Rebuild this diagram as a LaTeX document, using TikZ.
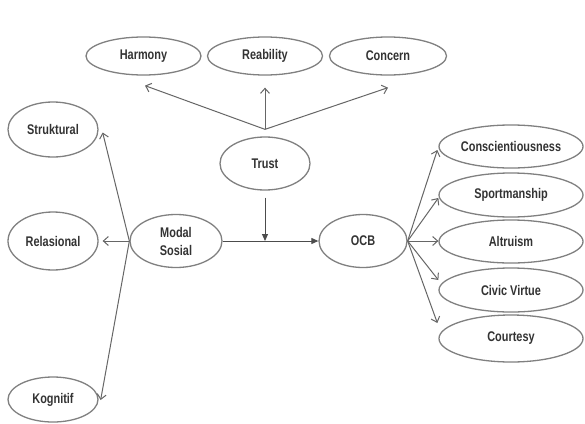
\documentclass[tikz,border=0pt]{standalone}
\usepackage{fontspec}
\setmainfont{Liberation Sans}[FakeStretch=0.78]
\usetikzlibrary{shapes.geometric,arrows.meta,calc}
\begin{document}
\begin{tikzpicture}[x=1pt,y=-1pt,
  ell/.style={ellipse, draw=black!50, line width=1.3pt, inner sep=0pt,
    font=\fontsize{14}{18}\selectfont\bfseries, text=black!80, align=center},
  openarr/.style={draw=black!60, line width=1pt, -{Straight Barb[length=5pt,width=9pt]}},
  filarr/.style={draw=black!60, line width=1pt, -{Triangle[length=7pt,width=6pt]}, color=black!70}
]
\useasboundingbox[fill=white] (0,0) rectangle (585,423);
% top
\node[ell, minimum width=115pt, minimum height=38pt] (harm) at (143.5,56) {Harmony};
\node[ell, minimum width=115pt, minimum height=38pt] (reab) at (265,56) {Reability};
\node[ell, minimum width=117pt, minimum height=38pt] (conc) at (388,56) {Concern};
\node[ell, minimum width=90pt, minimum height=53pt] (trust) at (265,163.5) {Trust};
% left
\node[ell, minimum width=90pt, minimum height=55pt] (struk) at (53,129.5) {Struktural};
\node[ell, minimum width=90pt, minimum height=58pt] (rel) at (53,241) {Relasional};
\node[ell, minimum width=90pt, minimum height=45pt] (kog) at (53,399.5) {Kognitif};
% middle
\node[ell, minimum width=92pt, minimum height=53pt] (modal) at (176,241) {Modal\\Sosial};
\node[ell, minimum width=88pt, minimum height=53pt] (ocb) at (363,241) {OCB};
% right
\node[ell, minimum width=144pt, minimum height=43pt] (cons) at (511,146.5) {Conscientiousness};
\node[ell, minimum width=144pt, minimum height=44pt] (sport) at (511,195) {Sportmanship};
\node[ell, minimum width=144pt, minimum height=43pt] (alt) at (511,241.5) {Altruism};
\node[ell, minimum width=144pt, minimum height=44pt] (cv) at (511,290) {Civic Virtue};
\node[ell, minimum width=144pt, minimum height=47pt] (court) at (511,338.5) {Courtesy};
% trust fork
\coordinate (tfork) at ($(trust.north)+(0,-7)$);
\coordinate (junc) at (trust.south |- modal.east);
\draw[openarr] (tfork) -- ($(harm.south)+(1.5,10)$);
\draw[openarr] (tfork) -- ($(reab.south)+(0,12)$);
\draw[openarr] (tfork) -- ($(conc.south)+(0,12)$);
\draw[filarr, shorten <=7pt] (trust.south) -- (junc);
\draw[filarr] (modal.east) -- (ocb.west);
% modal sosial to left
\draw[openarr] (modal.west) -- ($(struk.east)+(4,3)$);
\draw[openarr] (modal.west) -- ($(rel.east)+(4,0)$);
\draw[openarr] (modal.west) -- ($(kog.east)+(2,0.5)$);
% ocb to right
\draw[openarr] (ocb.east) -- ($(cons.west)+(-1,3.5)$);
\draw[openarr] (ocb.east) -- ($(sport.west)+(0,3)$);
\draw[openarr] (ocb.east) -- ($(alt.west)+(0,-0.5)$);
\draw[openarr] (ocb.east) -- ($(cv.west)+(0,-10)$);
\draw[openarr] (ocb.east) -- ($(court.west)+(-1,-15.5)$);
\end{tikzpicture}
\end{document}
